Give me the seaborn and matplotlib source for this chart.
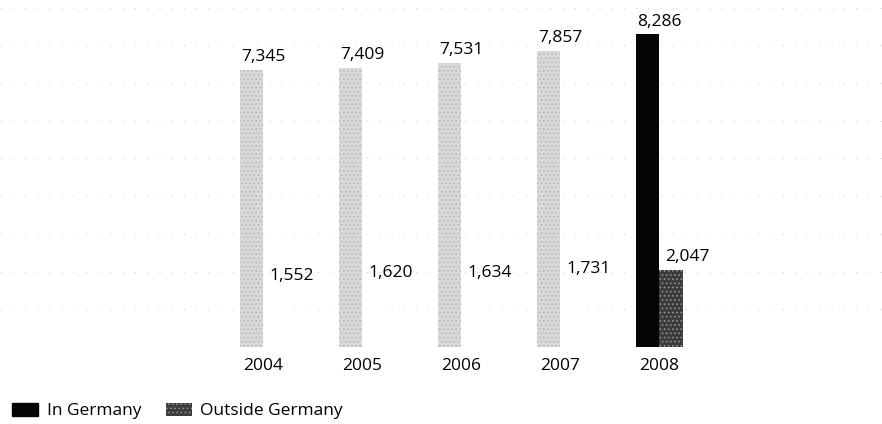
import matplotlib
matplotlib.use("Agg")
import matplotlib.pyplot as plt
from matplotlib.patches import Patch
import pandas as pd
import seaborn as sns

years = ["2004", "2005", "2006", "2007", "2008"]
in_germany = [7345, 7409, 7531, 7857, 8286]
outside_germany = [1552, 1620, 1634, 1731, 2047]
series_names = ["In Germany", "Outside Germany"]

df = pd.DataFrame({
    "year": years * 2,
    "value": in_germany + outside_germany,
    "series": [series_names[0]] * len(years) + [series_names[1]] * len(years),
})

sns.set_theme(style="white")
plt.rcParams["font.family"] = ["Open Sans", "DejaVu Sans"]
plt.rcParams["hatch.linewidth"] = 0.6

fig = plt.figure(figsize=(8.82, 4.24), dpi=100)
ax = fig.add_axes([0.0, 0.1816, 1.0, 0.8184])

sns.barplot(data=df, x="year", y="value", hue="series", hue_order=series_names,
            width=0.475, ax=ax, legend=False, saturation=1)

# bar styling: earlier years faded, 2008 highlighted
for ci, container in enumerate(ax.containers):
    for i, bar in enumerate(container.patches):
        if ci == 0:
            if i == len(years) - 1:
                bar.set_facecolor("#050505")
                bar.set_edgecolor("#050505")
            else:
                bar.set_facecolor("#d9d9d9")
                bar.set_edgecolor("#b5b5b5")
                bar.set_hatch("....")
        else:
            if i == len(years) - 1:
                bar.set_facecolor("#3c3c3c")
                bar.set_edgecolor("#9a9a9a")
                bar.set_hatch("....")
            else:
                bar.set_facecolor("white")
                bar.set_edgecolor("white")
        bar.set_linewidth(0.0)

# value labels
for i, year in enumerate(years):
    ax.text(i, in_germany[i] + 120, f"{in_germany[i]:,}", ha="center", va="bottom",
            fontsize=12.5, color="black")
    ax.text(i + 0.06, outside_germany[i] + 120, f"{outside_germany[i]:,}", ha="left",
            va="bottom", fontsize=12.5, color="black")

ax.set_ylim(0, 9200)
ax.set_xlim(-2.66, 6.25)
for v in range(0, 10000, 1000):
    ax.axhline(v, color="#d2d2d2", lw=0.8, ls=(0, (1, 10)), zorder=0)

ax.set_yticks([])
ax.set_xlabel("")
ax.set_ylabel("")
ax.tick_params(axis="x", length=0, labelsize=12.5, pad=8, colors="black")
for s in ax.spines.values():
    s.set_visible(False)

handles = [
    Patch(facecolor="#050505", edgecolor="#050505"),
    Patch(facecolor="#3c3c3c", edgecolor="#9a9a9a", hatch="....", linewidth=0),
]
fig.legend(handles, series_names, loc="lower left", bbox_to_anchor=(0.0, -0.018),
           ncol=2, frameon=False, fontsize=12.5, handlelength=1.5, handleheight=0.8,
           handletextpad=0.5, columnspacing=1.4, borderaxespad=0.3, labelcolor="black")

fig.savefig("out.png", dpi=100)
